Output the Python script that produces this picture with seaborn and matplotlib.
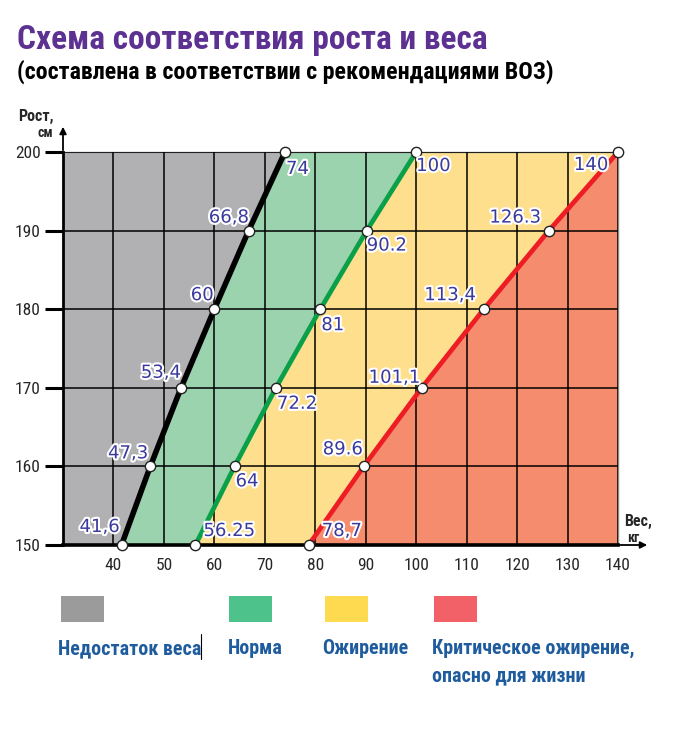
import matplotlib
matplotlib.use("Agg")
import matplotlib.pyplot as plt
import matplotlib.patheffects as pe
from matplotlib.patches import Rectangle
from matplotlib.lines import Line2D
import seaborn as sns
import pandas as pd

# ---------------- data ----------------
heights = [150, 160, 170, 180, 190, 200]
under_w = [41.6, 47.3, 53.4, 60, 66.8, 74]
norm_w = [56.25, 64, 72.2, 81, 90.2, 100]
obese_w = [78.7, 89.6, 101.1, 113.4, 126.3, 140]
under_lbl = ["41,6", "47,3", "53,4", "60", "66,8", "74"]
norm_lbl = ["56.25", "64", "72.2", "81", "90.2", "100"]
obese_lbl = ["78,7", "89.6", "101,1", "113,4", "126.3", "140"]
x_ticks = [40, 50, 60, 70, 80, 90, 100, 110, 120, 130, 140]
y_ticks = [150, 160, 170, 180, 190, 200]
legend_labels = ["Недостаток веса", "Норма", "Ожирение", "Критическое ожирение,\nопасно для жизни"]

title = "Схема соответствия роста и веса"
subtitle = "(составлена в соответствии с рекомендациями ВОЗ)"

# ---------------- style ----------------
sns.set_theme(style="white")
COND = ["Roboto Condensed", "DejaVu Sans"]
plt.rcParams["font.family"] = COND

W, H = 674, 738
fig = plt.figure(figsize=(W / 100, H / 100), dpi=100)
fig.patch.set_facecolor("white")

def fx(px):
    return px / W

def fy(py):
    return 1 - py / H

ax = fig.add_axes([fx(63), fy(545), fx(618) - fx(63), fy(152) - fy(545)])
ax.set_xlim(30, 140)
ax.set_ylim(150, 200)

region_cols = ["#b1b1b4", "#9bd3ae", "#fddf8e", "#f58c6e"]
ax.fill_betweenx(heights, [30] * len(heights), under_w, color=region_cols[0], lw=0, zorder=1)
ax.fill_betweenx(heights, under_w, norm_w, color=region_cols[1], lw=0, zorder=1)
ax.fill_betweenx(heights, norm_w, obese_w, color=region_cols[2], lw=0, zorder=1)
ax.fill_betweenx(heights, obese_w, [140] * len(heights), color=region_cols[3], lw=0, zorder=1)

ax.set_xticks(x_ticks)
ax.set_yticks(y_ticks)
ax.grid(True, color="black", lw=1.1, zorder=1.5)
ax.set_axisbelow(False)

df = pd.DataFrame({
    "h": heights * 3,
    "w": under_w + norm_w + obese_w,
    "s": ["u"] * 6 + ["n"] * 6 + ["o"] * 6,
})
line_cols = {"u": "#000000", "n": "#0aa04a", "o": "#ee1c24"}
line_w = {"u": 4.0, "n": 3.4, "o": 3.4}
for key in ["u", "n", "o"]:
    sub = df[df.s == key]
    sns.lineplot(data=sub, x="w", y="h", sort=False, color=line_cols[key],
                 lw=line_w[key], ax=ax, zorder=3, clip_on=False, legend=False)
sns.scatterplot(data=df, x="w", y="h", s=55, color="white", edgecolor="#222222",
                linewidth=1.0, ax=ax, zorder=4, clip_on=False, legend=False)

# label offsets (pixels) and alignment
under_off = [(-2, 18, "right"), (-2, 13, "right"), (0, 15, "right"), (-1, 14, "right"), (0, 13, "right"), (1, -17, "left")]
norm_off = [(8, 14, "left"), (1, -15, "left"), (1, -16, "left"), (1, -16, "left"), (0, -15, "left"), (0, -14, "left")]
obese_off = [(13, 14, "left"), (-1, 17, "right"), (-2, 10, "right"), (-8, 14, "right"), (-8, 13, "right"), (-10, -13, "right")]

halo = [pe.withStroke(linewidth=3, foreground="white")]
for ws, lbls, offs in [(under_w, under_lbl, under_off), (norm_w, norm_lbl, norm_off), (obese_w, obese_lbl, obese_off)]:
    for w, h, t, (dx, dy, ha) in zip(ws, heights, lbls, offs):
        ax.annotate(t, (w, h), xytext=(dx, dy), textcoords="offset pixels",
                    ha=ha, va="center", fontsize=13, color="#3a3a9e",
                    family=["DejaVu Sans"], path_effects=halo, zorder=5,
                    annotation_clip=False)

for s in ["top", "right"]:
    ax.spines[s].set_color("#8a8a8a")
    ax.spines[s].set_linewidth(1.0)
ax.spines["left"].set_color("black")
ax.spines["left"].set_linewidth(2.0)
ax.spines["bottom"].set_color("black")
ax.spines["bottom"].set_linewidth(2.6)
ax.spines["left"].set_zorder(2.6)
ax.spines["bottom"].set_zorder(2.6)

ax.tick_params(axis="y", length=13, width=2.2, color="black", pad=3, labelsize=12.5, left=True)
ax.tick_params(axis="x", length=0, pad=9, labelsize=12.5)
ax.set_xlabel("")
ax.set_ylabel("")

# arrows
ax.annotate("", xy=(fx(650), fy(545)), xycoords="figure fraction",
            xytext=(fx(615), fy(545)), textcoords="figure fraction",
            arrowprops=dict(arrowstyle="-|>", color="black", lw=1.3, mutation_scale=10))
ax.annotate("", xy=(fx(63), fy(124)), xycoords="figure fraction",
            xytext=(fx(63), fy(153)), textcoords="figure fraction",
            arrowprops=dict(arrowstyle="-|>", color="black", lw=1.3, mutation_scale=10))

# axis captions
fig.text(fx(18), fy(116), "Рост,", fontsize=11.5, fontweight="bold", ha="left", va="center")
fig.text(fx(37), fy(133), "см", fontsize=10, fontweight="bold", ha="left", va="center")
fig.text(fx(624), fy(521), "Вес,", fontsize=11.5, fontweight="bold", ha="left", va="center")
fig.text(fx(627), fy(538), "кг", fontsize=10, fontweight="bold", ha="left", va="center")

# titles
fig.text(fx(17), fy(40), title, fontsize=24, fontweight="bold", color="#5c3192",
         ha="left", va="center")
fig.text(fx(17), fy(72), subtitle, fontsize=17.3, fontweight="bold", color="black",
         ha="left", va="center")

# legend
sw_cols = ["#9b9b9b", "#4dc28a", "#fdda4f", "#f26168"]
sw_x = [61, 229, 325, 434]
lbl_x = [58, 228, 322, 432]
for c, x0 in zip(sw_cols, sw_x):
    fig.add_artist(Rectangle((fx(x0), fy(622)), fx(43), fy(596) - fy(622),
                             transform=fig.transFigure, color=c, lw=0))
for t, x0 in zip(legend_labels, lbl_x):
    fig.text(fx(x0), fy(639), t, fontsize=14.4, fontweight="bold", color="#1f5c9e",
             ha="left", va="top", linespacing=1.55)
fig.add_artist(Line2D([fx(201), fx(201)], [fy(634), fy(659)], transform=fig.transFigure,
                      color="black", lw=0.8))

fig.savefig("out.png", dpi=100)
